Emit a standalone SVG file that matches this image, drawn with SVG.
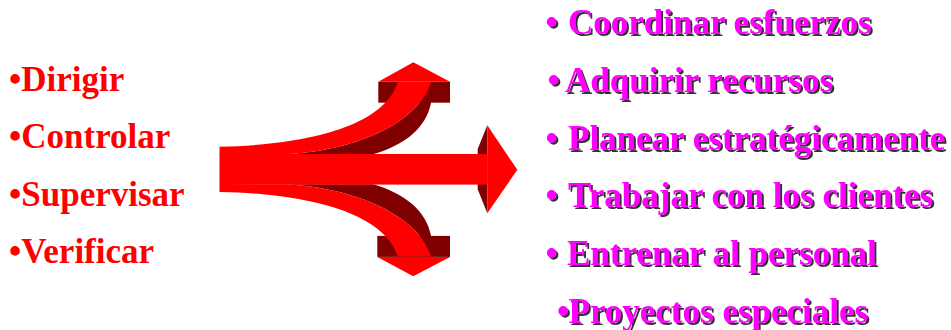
<svg xmlns="http://www.w3.org/2000/svg" width="951" height="330" viewBox="0 0 951 330">
  <defs>
    <filter id="shadow" x="-5%" y="-20%" width="110%" height="150%">
      <feDropShadow dx="2" dy="2" stdDeviation="0.6" flood-color="#303030" flood-opacity="1"/>
    </filter>
    <style>
      .lbl { font-family: "Liberation Serif", "Times New Roman", serif; font-weight: bold; font-size: 35px; }
      .left { fill: #FF0000; }
      .right { fill: #FF00FF; filter: url(#shadow); }
      .red { fill: #FF0000; }
      .dark { fill: #800000; }
    </style>
  </defs>
  <rect width="951" height="330" fill="#FFFFFF"/>

  <!-- Left list -->
  <g id="left-list">
    <text class="lbl left" x="9" y="90.7">•Dirigir</text>
    <text class="lbl left" x="9" y="148.2">•Controlar</text>
    <text class="lbl left" x="9" y="205.7">•Supervisar</text>
    <text class="lbl left" x="9" y="263.2">•Verificar</text>
  </g>

  <!-- Three-way splitting arrow -->
  <g id="split-arrow">
    <!-- bevel faces -->
    <rect class="dark" x="378.3" y="81.7" width="71.7" height="21"/>
    <rect class="dark" x="377.3" y="235.9" width="72.7" height="21"/>
    <path class="dark" d="M431,82 L431,103 C426,128 405,145 373,154.3 L283,154.3 C350,152 418,125 431,82 Z"/>
    <path class="dark" d="M431,256.6 L431,235.6 C426,210.6 405,193.6 373,184.3 L283,184.3 C350,186.6 418,213.6 431,256.6 Z"/>
    <polygon class="dark" points="477.7,149 487.3,125.3 487.3,213.3 477.7,189.3"/>
    <!-- front faces -->
    <rect class="red" x="219.5" y="154" width="268" height="30.6"/>
    <path class="red" d="M219.5,146.7 C310,145 385,125 397.7,82 L431,82 C418,125 350,152 283,154.3 L219.5,154.5 Z"/>
    <path class="red" d="M219.5,191.9 C310,193.6 385,213.6 397.7,256.6 L431,256.6 C418,213.6 350,186.6 283,184.3 L219.5,184.1 Z"/>
    <polygon class="red" points="378.3,81.7 413.3,62.3 450,81.7"/>
    <polygon class="red" points="377.3,256.9 413.3,276.3 450,256.9"/>
    <polygon class="red" points="487.3,125.3 517.3,169.8 487.3,213.3"/>
  </g>

  <!-- Right list -->
  <g id="right-list">
    <text class="lbl right" y="34.3"><tspan x="545.5">• </tspan><tspan x="568">Coordinar esfuerzos</tspan></text>
    <text class="lbl right" y="92"><tspan x="547.5">•</tspan><tspan x="565">Adquirir recursos</tspan></text>
    <text class="lbl right" y="149.7"><tspan x="545.5">• </tspan><tspan x="568">Planear estratégicamente</tspan></text>
    <text class="lbl right" y="207.4"><tspan x="545.5">• </tspan><tspan x="568">Trabajar con los clientes</tspan></text>
    <text class="lbl right" y="265.1"><tspan x="545.5">• </tspan><tspan x="567">Entrenar al personal</tspan></text>
    <text class="lbl right" y="322.8"><tspan x="557">•</tspan><tspan x="568.5">Proyectos especiales</tspan></text>
  </g>
</svg>
